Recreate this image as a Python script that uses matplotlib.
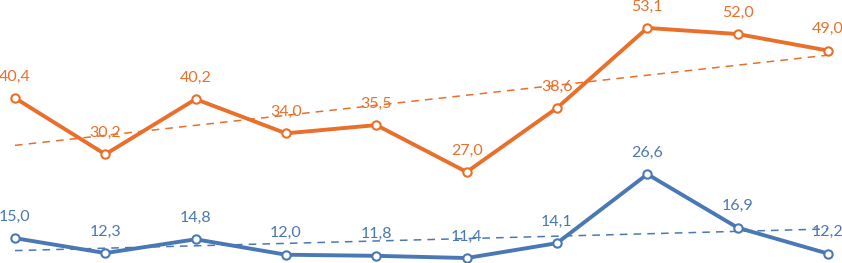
import matplotlib
matplotlib.use("Agg")
import matplotlib.pyplot as plt
import numpy as np

plt.rcParams['font.family'] = ['Lato', 'DejaVu Sans']

periods = list(range(10))
orange_vals = [40.4, 30.2, 40.2, 34.0, 35.5, 27.0, 38.6, 53.1, 52.0, 49.0]
blue_vals = [15.0, 12.3, 14.8, 12.0, 11.8, 11.4, 14.1, 26.6, 16.9, 12.2]

orange = '#E8702A'
blue = '#4A78B4'

fig = plt.figure(figsize=(8.42, 2.63), dpi=100)
ax = fig.add_axes([0, 0, 1, 1])

for vals, col in [(orange_vals, orange), (blue_vals, blue)]:
    x = np.array(periods)
    y = np.array(vals)
    # linear trend line
    k, b = np.polyfit(x, y, 1)
    ax.plot([x[0], x[-1]], [k * x[0] + b, k * x[-1] + b], color=col,
            lw=1.1, ls=(0, (5, 4)), zorder=1)
    ax.plot(x, y, color=col, lw=2.8, marker='o', ms=6,
            mfc='white', mec=col, mew=1.5, zorder=2)
    for xi, yi in zip(x, y):
        ax.annotate(f"{yi:.1f}".replace('.', ','), (xi, yi),
                    xytext=(0, 15.5), textcoords='offset points',
                    ha='center', va='center', color=col, fontsize=11.5,
                    zorder=3)

ax.set_xlim(-0.166, 9.155)
ax.set_ylim(10.5, 58.17)
ax.axis('off')

fig.savefig('out.png', dpi=100)
